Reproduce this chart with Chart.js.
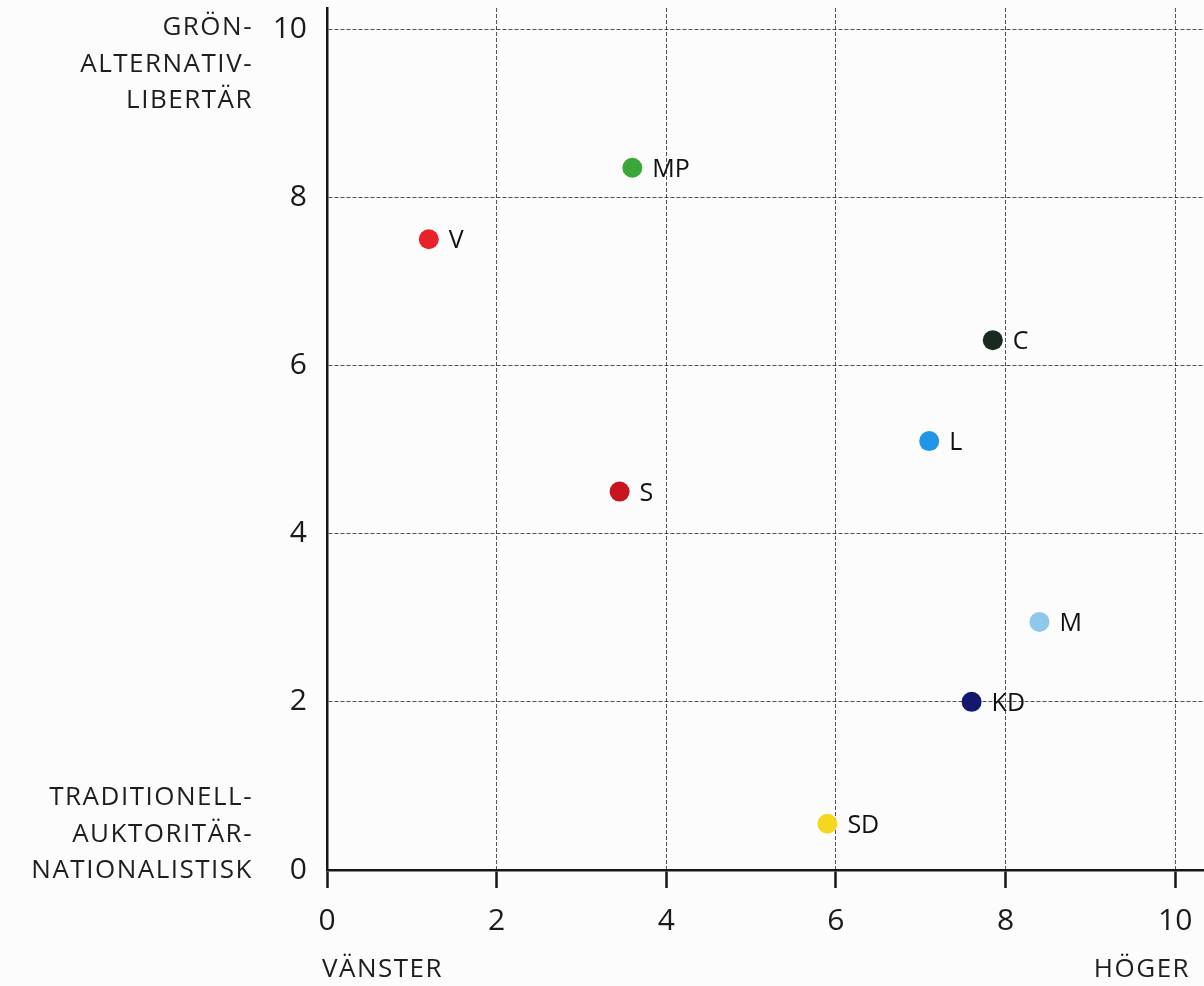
<!DOCTYPE html>
<html>
<head>
<meta charset="utf-8">
<script src="https://cdn.jsdelivr.net/npm/chart.js@4/dist/chart.umd.min.js"></script>
<style>
  html,body{margin:0;padding:0;background:#fcfcfc;}
  #wrap{width:1204px;height:986px;position:relative;}
</style>
</head>
<body>
<div id="wrap"><canvas id="partyMap"></canvas></div>
<script>
// parties and their positions (x: vänster-höger, y: TAN-GAL)
const parties=['V','MP','C','L','S','M','KD','SD'];
const leftRight=[1.2,3.6,7.85,7.1,3.45,8.4,7.6,5.9];
const galTan=[7.5,8.35,6.3,5.1,4.5,2.95,2.0,0.55];
const partyColors=['#e8222a','#3aa838','#1a2a1e','#2196e6','#c8141c','#8ec9ec','#13186e','#f4d71e'];
const axisTicks=[0,2,4,6,8,10];
const topTitle=['GRÖN-','ALTERNATIV-','LIBERTÄR'];
const bottomTitle=['TRADITIONELL-','AUKTORITÄR-','NATIONALISTISK'];
const xTitleLeft='VÄNSTER';
const xTitleRight='HÖGER';

Chart.defaults.font.family="'Open Sans', sans-serif";
Chart.defaults.color='#1a1a1a';

const points=parties.map((p,i)=>({x:leftRight[i],y:galTan[i],label:p}));

// party names next to the dots
const partyLabels={
  id:'partyLabels',
  afterDatasetsDraw(chart){
    const ctx=chart.ctx;
    const meta=chart.getDatasetMeta(0);
    ctx.save();
    ctx.font="25px 'Open Sans', sans-serif";
    ctx.fillStyle='#111';
    ctx.textAlign='left';
    ctx.textBaseline='middle';
    meta.data.forEach((el,i)=>{
      ctx.fillText(parties[i],el.x+20,el.y+2);
    });
    ctx.restore();
  }
};

// the axis end labels (GAL/TAN, vänster/höger)
const axisTitles={
  id:'axisTitles',
  afterDraw(chart){
    const ctx=chart.ctx;
    const y=chart.scales.y, x=chart.scales.x;
    ctx.save();
    ctx.font="26px 'Open Sans', sans-serif";
    ctx.fillStyle='#1e1e1e';
    ctx.textBaseline='middle';
    if('letterSpacing' in ctx) ctx.letterSpacing='1.5px';
    ctx.textAlign='right';
    const right=253;
    const top=y.getPixelForValue(10);
    topTitle.forEach((t,i)=>ctx.fillText(t,right,top-1+i*36.5));
    const bot=y.getPixelForValue(0);
    bottomTitle.forEach((t,i)=>ctx.fillText(t,right,bot-72+i*36.5));
    const ty=bot+100;
    ctx.textAlign='left';
    ctx.fillText(xTitleLeft,x.getPixelForValue(0)-5,ty);
    ctx.textAlign='right';
    ctx.fillText(xTitleRight,x.getPixelForValue(10)+15,ty);
    ctx.restore();
  }
};

const gridColor='rgba(40,40,40,0.8)';

new Chart(document.getElementById('partyMap'),{
  type:'scatter',
  data:{datasets:[{
    label:'Partier',
    data:points,
    backgroundColor:partyColors,
    borderWidth:0,
    pointRadius:10,
    pointHoverRadius:10
  }]},
  options:{
    responsive:true,
    maintainAspectRatio:false,
    animation:false,
    layout:{autoPadding:false,padding:{top:8,right:0,left:0,bottom:0}},
    plugins:{legend:{display:false},tooltip:{enabled:false}},
    scales:{
      x:{
        type:'linear',min:0,max:10.34,
        afterFit(s){s.height=116;s.paddingLeft=0;s.paddingRight=0;},
        afterBuildTicks(s){s.ticks=axisTicks.map(v=>({value:v}));},
        ticks:{font:{size:30},color:'#1a1a1a',padding:15,maxRotation:0},
        grid:{z:-1,color:gridColor,lineWidth:1,tickLength:18,tickColor:'#161616',tickWidth:2.5,tickBorderDash:[]},
        border:{display:true,color:'#161616',width:2.5,dash:[4,2]}
      },
      y:{
        type:'linear',min:0,max:10.25,
        afterFit(s){s.width=327;s.paddingTop=0;s.paddingBottom=0;},
        afterBuildTicks(s){s.ticks=axisTicks.map(v=>({value:v}));},
        ticks:{font:{size:30},color:'#1a1a1a',padding:20},
        grid:{z:-1,color:gridColor,lineWidth:1,drawTicks:false},
        border:{display:true,color:'#161616',width:2.5,dash:[4,2]}
      }
    }
  },
  plugins:[partyLabels,axisTitles]
});
</script>
</body>
</html>
